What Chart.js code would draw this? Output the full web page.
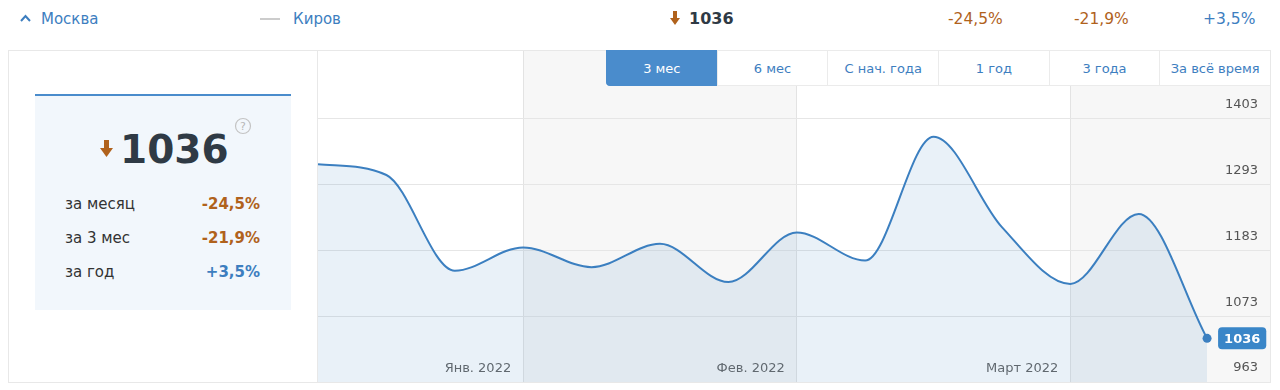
<!DOCTYPE html>
<html lang="ru">
  <head>
    <meta charset="UTF-8" />
    <title>Москва — 1036</title>
    <script src="https://cdn.jsdelivr.net/npm/chart.js"></script>
    <style>
      body {
        margin: 0;
        width: 1280px;
        height: 390px;
        position: relative;
        overflow: hidden;
        background: #fff;
        font-family: "DejaVu Sans", Verdana, sans-serif;
      }
      .abs { position: absolute; white-space: nowrap; }
      .blue { color: #3d7ebf; }
      .brown { color: #b0621c; }
      .frame {
        left: 8px; top: 50px; width: 1263px; height: 333px;
        box-sizing: border-box; border: 1px solid #e8e8e8;
        pointer-events: none; z-index: 2;
      }
      .card {
        left: 35px; top: 94px; width: 256px; height: 216px;
        background: #f2f7fc; border-top: 2px solid #4a8ccc;
        box-sizing: border-box;
      }
      .row { font-size: 15px; line-height: 20px; color: #333; }
      .val { font-size: 15px; line-height: 20px; font-weight: bold; text-align: right; }
      .tabs {
        left: 606px; top: 50px; width: 664px; height: 36px;
        display: flex; z-index: 3; background: #fff;
      }
      .tabs div {
        flex: 1; text-align: center; font-size: 13px; line-height: 36px;
        color: #3d7ebf; border-left: 1px solid #ebebeb; border-bottom: 1px solid #ebebeb;
        border-top: 1px solid #ebebeb; box-sizing: border-box;
      }
      .tabs div.on {
        background: #4a8ccc; color: #fff; border-color: #4a8ccc;
        border-bottom-left-radius: 4px;
      }
    </style>
  </head>
  <body>
    <!-- header row -->
    <svg class="abs" style="left:20px;top:14px" width="11" height="8" viewBox="0 0 11 8">
      <polyline points="1,7 5.5,2 10,7" fill="none" stroke="#3d7ebf" stroke-width="2" />
    </svg>
    <div class="abs blue" style="left:41px;top:9px;font-size:15px;line-height:20px">Москва</div>
    <div class="abs" style="left:260px;top:18px;width:20px;height:2px;background:#ccc"></div>
    <div class="abs blue" style="left:293px;top:9px;font-size:15px;line-height:20px">Киров</div>
    <svg class="abs" style="left:670px;top:11px" width="10" height="14" viewBox="0 0 10 14">
      <rect x="3" y="0" width="4" height="8" fill="#b0621c" />
      <polygon points="0,7 10,7 5,14" fill="#b0621c" />
    </svg>
    <div class="abs" style="left:689px;top:9px;font-size:16px;line-height:20px;font-weight:bold;color:#2f3a45">1036</div>
    <div class="abs brown" style="left:948px;top:9px;font-size:15.5px;line-height:20px">-24,5%</div>
    <div class="abs brown" style="left:1074px;top:9px;font-size:15.5px;line-height:20px">-21,9%</div>
    <div class="abs blue" style="left:1203px;top:9px;font-size:15.5px;line-height:20px">+3,5%</div>

    <!-- left summary card -->
    <div class="abs card"></div>
    <svg class="abs" style="left:100px;top:140px" width="13" height="17" viewBox="0 0 13 17">
      <rect x="4" y="0" width="5" height="9" fill="#b0621c" />
      <polygon points="0,8 13,8 6.5,17" fill="#b0621c" />
    </svg>
    <div class="abs" style="left:120px;top:129px;font-size:39px;line-height:42px;font-weight:bold;color:#2f3a45">1036</div>
    <svg class="abs" style="left:234px;top:117px" width="18" height="18" viewBox="0 0 18 18">
      <circle cx="9" cy="9" r="7.5" fill="none" stroke="#c4c4c4" stroke-width="1.2" />
      <text x="9" y="13" text-anchor="middle" font-size="11" fill="#b8b8b8" font-family="DejaVu Sans">?</text>
    </svg>
    <div class="abs row" style="left:65px;top:194px">за месяц</div>
    <div class="abs val brown" style="right:1020px;top:194px">-24,5%</div>
    <div class="abs row" style="left:65px;top:228px">за 3 мес</div>
    <div class="abs val brown" style="right:1020px;top:228px">-21,9%</div>
    <div class="abs row" style="left:65px;top:262px">за год</div>
    <div class="abs val blue" style="right:1020px;top:262px">+3,5%</div>

    <!-- chart -->
    <div class="abs" style="left:317px;top:50px;width:1px;height:332px;background:#e8e8e8"></div>
    <canvas id="indexChart" class="abs" style="left:318px;top:50px" width="952" height="332"></canvas>
    <div class="abs frame"></div>
    <div class="abs tabs">
      <div class="on">3 мес</div>
      <div>6 мес</div>
      <div>С нач. года</div>
      <div>1 год</div>
      <div>3 года</div>
      <div>За всё время</div>
    </div>

    <script>
      // weekly values, last 3 months
      const weeks = [
        "27.12", "03.01", "10.01", "17.01", "24.01", "31.01", "07.02",
        "14.02", "21.02", "28.02", "07.03", "14.03", "21.03", "28.03",
      ];
      const values = [
        1327, 1309, 1149, 1188, 1155, 1194, 1130,
        1213, 1166, 1373, 1222, 1127, 1244, 1036,
      ];
      const monthStarts = [3, 7, 11];
      const monthLabels = ["Янв. 2022", "Фев. 2022", "Март 2022"];
      const shadedMonths = [[3, 7], [11, null]];
      const yTicks = [963, 1073, 1183, 1293, 1403];

      const lineColor = "#3b7fc0";

      // axes sit inside the plot, so they take no room
      function noRoom(axis) {
        axis.width = axis.isHorizontal() ? axis.width : 0;
        axis.height = axis.isHorizontal() ? 0 : axis.height;
        axis.paddingLeft = axis.paddingRight = axis.paddingTop = axis.paddingBottom = 0;
      }

      const bandsPlugin = {
        id: "bands",
        beforeDraw(chart) {
          const { ctx, chartArea, scales } = chart;
          ctx.save();
          ctx.fillStyle = "#f7f7f7";
          shadedMonths.forEach(([a, b]) => {
            const x0 = scales.x.getPixelForValue(a);
            const x1 = b === null ? chartArea.right : scales.x.getPixelForValue(b);
            ctx.fillRect(x0, chartArea.top, x1 - x0, chartArea.bottom - chartArea.top);
          });
          ctx.restore();
        },
      };

      const lastLabelPlugin = {
        id: "lastLabel",
        afterDatasetsDraw(chart) {
          const { ctx } = chart;
          const meta = chart.getDatasetMeta(0);
          const pt = meta.data[meta.data.length - 1];
          const text = String(values[values.length - 1]);
          ctx.save();
          ctx.font = "bold 13px 'DejaVu Sans'";
          const w = ctx.measureText(text).width + 12;
          const h = 22;
          const left = pt.x + 11;
          ctx.fillStyle = "#3a86c8";
          ctx.beginPath();
          ctx.roundRect(left, pt.y - h / 2, w, h, 4);
          ctx.fill();
          ctx.fillStyle = "#fff";
          ctx.textAlign = "center";
          ctx.textBaseline = "middle";
          ctx.fillText(text, left + w / 2, pt.y + 1);
          ctx.restore();
        },
      };

      new Chart(document.getElementById("indexChart"), {
        type: "line",
        data: {
          datasets: [
            {
              label: "Москва",
              data: values.map((v, i) => ({ x: i, y: v, week: weeks[i] })),
              borderColor: lineColor,
              borderWidth: 2,
              backgroundColor: "rgba(59, 127, 192, 0.11)",
              fill: "start",
              cubicInterpolationMode: "monotone",
              pointRadius: values.map((v, i) => (i === values.length - 1 ? 4.5 : 0)),
              pointBackgroundColor: lineColor,
              pointBorderWidth: 0,
            },
          ],
        },
        options: {
          responsive: false,
          animation: false,
          layout: { padding: 0, autoPadding: false },
          plugins: { legend: { display: false }, tooltip: { enabled: false } },
          scales: {
            x: {
              type: "linear",
              min: 0,
              max: 13.92,
              afterBuildTicks: (axis) => {
                axis.ticks = monthStarts.map((v) => ({ value: v }));
              },
              afterFit: noRoom,
              grid: { color: "#e3e3e3", drawTicks: false },
              border: { display: false },
              ticks: {
                mirror: true,
                align: "end",
                labelOffset: -12,
                padding: 6,
                color: "#666",
                font: { family: "DejaVu Sans", size: 13 },
                callback: (v, i) => monthLabels[i],
              },
            },
            y: {
              position: "right",
              min: 963,
              max: 1518,
              afterBuildTicks: (axis) => {
                axis.ticks = yTicks.map((v) => ({ value: v }));
              },
              afterFit: noRoom,
              grid: { color: "#e6e6e6", drawTicks: false },
              border: { display: false },
              ticks: {
                mirror: true,
                padding: -12,
                labelOffset: -14,
                color: "#555",
                font: { family: "DejaVu Sans", size: 13 },
                callback: (v) => String(v),
              },
            },
          },
        },
        plugins: [bandsPlugin, lastLabelPlugin],
      });
    </script>
  </body>
</html>
